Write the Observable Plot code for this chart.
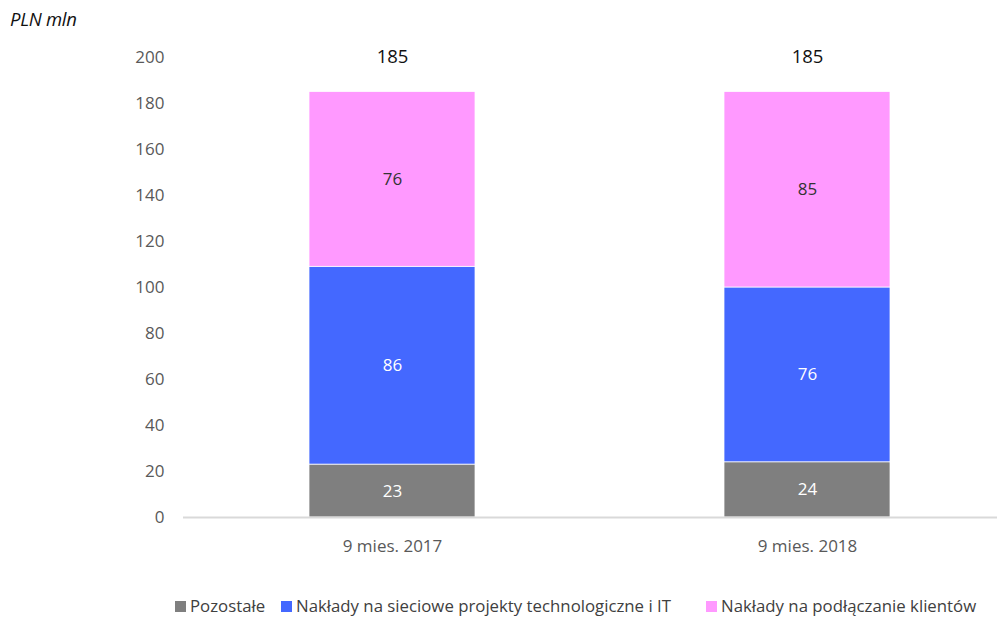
<!DOCTYPE html>
<html>
<head>
<meta charset="utf-8">
<script src="https://cdn.jsdelivr.net/npm/d3@7"></script>
<script src="https://cdn.jsdelivr.net/npm/@observablehq/plot@0.6"></script>
<style>
  html, body { margin: 0; padding: 0; background: #fff; }
  #wrap { position: relative; width: 997px; height: 617px; font-family: "Open Sans", sans-serif; }
  #unit { position: absolute; left: 10px; top: 6px; font-style: italic; font-size: 18.5px; color: #111; letter-spacing: -0.3px; }
  #legend { position: absolute; left: 0; top: 596px; width: 997px; height: 20px; font-size: 16.8px; line-height: 20px; color: #404040; }
  .item { position: absolute; top: 0; display: flex; align-items: center; height: 20px; white-space: nowrap; }
  .sw { width: 11px; height: 11px; margin-right: 4px; }
</style>
</head>
<body>
<div id="wrap">
  <div id="chart"></div>
  <div id="unit">PLN mln</div>
  <div id="legend"></div>
</div>
<script>
const categories = ["9 mies. 2017", "9 mies. 2018"];
const seriesNames = ["Pozostałe", "Nakłady na sieciowe projekty technologiczne i IT", "Nakłady na podłączanie klientów"];
const pozostale = [23, 24];
const siecioweIT = [86, 76];
const podlaczanie = [76, 85];
const totals = [185, 185];
const yTicks = [0, 20, 40, 60, 80, 100, 120, 140, 160, 180, 200];
const colors = ["#7f7f7f", "#4468ff", "#ff99ff"];
const labelColors = ["#ffffff", "#ffffff", "#333333"];

const seriesValues = [pozostale, siecioweIT, podlaczanie];
const rows = [];
seriesNames.forEach((s, i) => categories.forEach((c, j) => rows.push({cat: c, series: s, value: seriesValues[i][j], idx: i})));
const totalRows = categories.map((c, j) => ({cat: c, total: totals[j]}));

const chart = Plot.plot({
  width: 997,
  height: 590,
  marginLeft: 183,
  marginRight: 0,
  marginTop: 57,
  marginBottom: 73,
  style: {fontFamily: "Open Sans, sans-serif", fontSize: "17px", color: "#595959"},
  x: {domain: categories, paddingInner: 0.6, paddingOuter: 0.28, align: 0.54, label: null},
  y: {domain: [0, 200], ticks: yTicks, label: null},
  color: {domain: seriesNames, range: colors},
  marks: [
    Plot.barY(rows, {x: "cat", y: "value", fill: "series", order: seriesNames, stroke: "white", strokeWidth: 0.75}),
    Plot.ruleY([0], {stroke: "#d9d9d9", strokeWidth: 2}),
    Plot.text(rows, Plot.stackY({x: "cat", y: "value", z: "series", order: seriesNames, text: d => String(d.value), fill: d => labelColors[d.idx], fontSize: 17})),
    Plot.text(totalRows, {x: "cat", y: "total", text: d => String(d.total), dy: -35, fill: "#111", fontSize: 18.5}),
    Plot.axisY({ticks: yTicks, tickSize: 0, tickPadding: 19, fontSize: 17, fill: "#595959"}),
    Plot.axisX({tickSize: 0, tickPadding: 22, fontSize: 17, fill: "#595959"})
  ]
});
document.getElementById("chart").appendChild(chart);

const legend = document.getElementById("legend");
const lefts = [175, 281, 706];
seriesNames.forEach((s, i) => {
  const it = document.createElement("div");
  it.className = "item";
  it.style.left = lefts[i] + "px";
  const sw = document.createElement("span");
  sw.className = "sw";
  sw.style.background = colors[i];
  const t = document.createElement("span");
  t.textContent = s;
  it.appendChild(sw); it.appendChild(t);
  legend.appendChild(it);
});
</script>
</body>
</html>
